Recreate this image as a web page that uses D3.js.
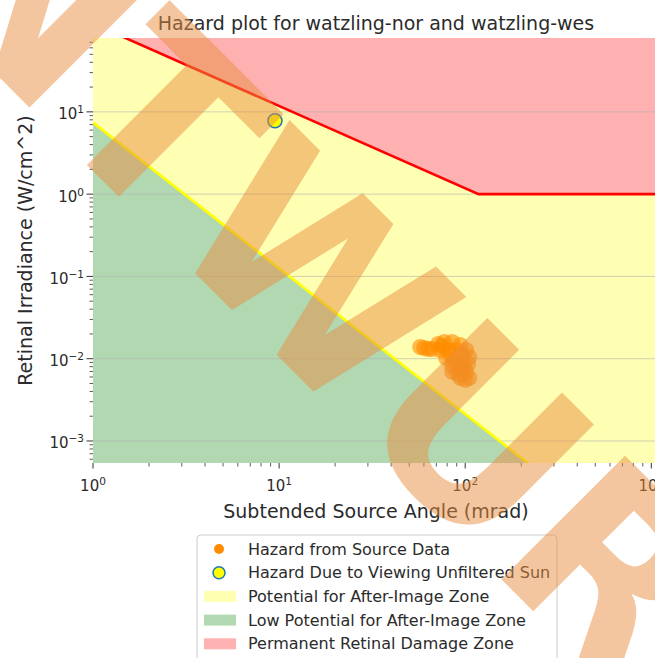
<!DOCTYPE html>
<html>
<head>
<meta charset="utf-8">
<script src="https://cdn.jsdelivr.net/npm/d3@7"></script>
<style>
  body { margin: 0; background: #fff; }
  svg { display: block; }
  text { font-family: "DejaVu Sans", sans-serif; fill: #2b2b2b; }
</style>
</head>
<body>
<svg id="chart" width="655" height="658"></svg>
<script>
// axis ranges and ticks
var xDomain = [1, 1100];
var yDomain = [5.4e-4, 79];
var xMajor = [1, 10, 100, 1000];
var yMajor = [1e-3, 1e-2, 1e-1, 1, 10];

// zone boundaries
var damageX = [1, 118, 1100];
var damageY = [118, 1, 1];
var afterX = [1, 240];
var afterY = [7.4, 4.5e-4];

// hazard points
var sunX = [9.5];
var sunY = [7.8];
var sourceX = [57.3, 60.2, 63.2, 66.5,
               71.6, 77.1, 85.1, 94.0, 101.2, 105.1,
               73.4, 81.1, 89.5, 96.4, 79.0, 87.3, 96.4, 103.8, 85.1,
               94.0, 101.2, 105.1, 94.0, 100.0, 91.7,
               83.0, 91.7, 85.1, 98.8, 75.2];
var sourceY = [0.01388, 0.01349, 0.01312, 0.01312,
               0.01510, 0.01595, 0.01595, 0.01466, 0.01276, 0.01049,
               0.01276, 0.01276, 0.01276, 0.01141, 0.01021, 0.00965, 0.00912, 0.00862, 0.00815,
               0.00729, 0.00690, 0.00583, 0.00583, 0.00551, 0.00652,
               0.01109, 0.00838, 0.00690, 0.00771, 0.01427];

var legendLabels = ["Hazard from Source Data", "Hazard Due to Viewing Unfiltered Sun",
  "Potential for After-Image Zone", "Low Potential for After-Image Zone", "Permanent Retinal Damage Zone"];

var svg = d3.select("#chart");
var pLeft = 93, pRight = 659, pTop = 38, pBottom = 463;

var x = d3.scaleLog().domain(xDomain).range([pLeft, pRight]);
var y = d3.scaleLog().domain(yDomain).range([pBottom, pTop]);

svg.append("defs").append("clipPath").attr("id", "plotclip")
  .append("rect").attr("x", pLeft).attr("y", pTop)
  .attr("width", pRight - pLeft).attr("height", pBottom - pTop);

var plot = svg.append("g").attr("clip-path", "url(#plotclip)");

// zones: yellow = 30% yellow, red = 30% red, green = 30% green (over white)
plot.append("rect")
  .attr("x", pLeft).attr("y", pTop)
  .attr("width", pRight - pLeft).attr("height", pBottom - pTop)
  .attr("fill", "rgb(255,255,179)");

var damage = damageX.map(function(d, i) { return [d, damageY[i]]; });
var after = afterX.map(function(d, i) { return [d, afterY[i]]; });

plot.append("path")
  .datum(damage)
  .attr("d", d3.area().x(function(d) { return x(d[0]); }).y0(0).y1(function(d) { return y(d[1]); }))
  .attr("fill", "rgb(255,176,176)");

plot.append("path")
  .datum(after)
  .attr("d", d3.area().x(function(d) { return x(d[0]); }).y0(pBottom + 50).y1(function(d) { return y(d[1]); }))
  .attr("fill", "rgb(178,216,178)");

// horizontal grid
plot.selectAll("line.grid")
  .data(yMajor)
  .enter().append("line")
  .attr("x1", pLeft).attr("x2", pRight)
  .attr("y1", function(d) { return y(d); }).attr("y2", function(d) { return y(d); })
  .attr("stroke", "#b0b0b0").attr("stroke-opacity", 0.6).attr("stroke-width", 1);

var line = d3.line().x(function(d) { return x(d[0]); }).y(function(d) { return y(d[1]); });

plot.append("path").datum(damage).attr("d", line)
  .attr("fill", "none").attr("stroke", "#ff0000").attr("stroke-width", 2.6);

plot.append("path").datum(after).attr("d", line)
  .attr("fill", "none").attr("stroke", "#ffff00").attr("stroke-width", 2.6);

// source data points
plot.selectAll("circle.src")
  .data(sourceX)
  .enter().append("circle")
  .attr("cx", function(d) { return x(d); })
  .attr("cy", function(d, i) { return y(sourceY[i]); })
  .attr("r", 8)
  .attr("fill", "#ff8c00").attr("fill-opacity", 0.6);

// sun
plot.selectAll("circle.sun")
  .data(sunX)
  .enter().append("circle")
  .attr("cx", function(d) { return x(d); })
  .attr("cy", function(d, i) { return y(sunY[i]); })
  .attr("r", 7)
  .attr("fill", "#ffff00").attr("stroke", "#1f77b4").attr("stroke-width", 1.5);

// ticks
function minors(domain) {
  var out = [];
  for (var e = -5; e <= 4; e++) {
    for (var m = 2; m <= 9; m++) {
      var v = m * Math.pow(10, e);
      if (v > domain[0] && v < domain[1]) out.push(v);
    }
  }
  return out;
}

var tickColor = "#333";
svg.selectAll("line.xmaj").data(xMajor).enter().append("line")
  .attr("x1", function(d) { return x(d); }).attr("x2", function(d) { return x(d); })
  .attr("y1", pBottom).attr("y2", pBottom + 5.5).attr("stroke", tickColor).attr("stroke-width", 1);
svg.selectAll("line.xmin").data(minors(xDomain)).enter().append("line")
  .attr("x1", function(d) { return x(d); }).attr("x2", function(d) { return x(d); })
  .attr("y1", pBottom).attr("y2", pBottom + 3.5).attr("stroke", tickColor).attr("stroke-width", 0.8);
svg.selectAll("line.ymaj").data(yMajor).enter().append("line")
  .attr("y1", function(d) { return y(d); }).attr("y2", function(d) { return y(d); })
  .attr("x1", pLeft - 6.5).attr("x2", pLeft).attr("stroke", tickColor).attr("stroke-width", 1);
svg.selectAll("line.ymin").data(minors(yDomain)).enter().append("line")
  .attr("y1", function(d) { return y(d); }).attr("y2", function(d) { return y(d); })
  .attr("x1", pLeft - 3.5).attr("x2", pLeft).attr("stroke", tickColor).attr("stroke-width", 0.8);

function expo(d) { return Math.round(Math.log10(d)).toString().replace("-", "\u2212"); }

function powLabel(sel) {
  sel.append("tspan").text("10");
  sel.append("tspan").attr("dy", -6).attr("font-size", 10.5).text(function(d) { return expo(d); });
}

svg.selectAll("text.xl").data(xMajor).enter().append("text")
  .attr("x", function(d) { return x(d); }).attr("y", 491)
  .attr("text-anchor", "middle").attr("font-size", 15)
  .call(powLabel);

svg.selectAll("text.yl").data(yMajor).enter().append("text")
  .attr("x", 84).attr("y", function(d) { return y(d) + 7.5; })
  .attr("text-anchor", "end").attr("font-size", 15)
  .call(powLabel);

// labels
svg.append("text").attr("x", (pLeft + pRight) / 2).attr("y", 518)
  .attr("text-anchor", "middle").attr("font-size", 19)
  .text("Subtended Source Angle (mrad)");

svg.append("text").attr("transform", "translate(32," + ((pTop + pBottom) / 2) + ") rotate(-90)")
  .attr("text-anchor", "middle").attr("font-size", 19)
  .text("Retinal Irradiance (W/cm^2)");

svg.append("text").attr("x", (pLeft + pRight) / 2).attr("y", 30)
  .attr("text-anchor", "middle").attr("font-size", 19)
  .text("Hazard plot for watzling-nor and watzling-wes");

// legend
var legend = svg.append("g").attr("transform", "translate(197,535)");
legend.append("rect").attr("width", 360).attr("height", 140).attr("rx", 4)
  .attr("fill", "#fff").attr("fill-opacity", 0.8).attr("stroke", "#ccc");

var rowY = function(i) { return 14 + i * 23.7; };
legend.selectAll("text").data(legendLabels).enter().append("text")
  .attr("x", 51).attr("y", function(d, i) { return rowY(i) + 5.5; })
  .attr("font-size", 16).text(function(d) { return d; });

legend.append("circle").attr("cx", 22).attr("cy", rowY(0)).attr("r", 5).attr("fill", "#ff8c00");
legend.append("circle").attr("cx", 22).attr("cy", rowY(1)).attr("r", 6)
  .attr("fill", "#ffff00").attr("stroke", "#1f77b4").attr("stroke-width", 1.5);
var patchColors = ["rgb(255,255,0)", "rgb(0,128,0)", "rgb(255,0,0)"];
legend.selectAll("rect.patch").data(patchColors).enter().append("rect")
  .attr("x", 7).attr("y", function(d, i) { return rowY(i + 2) - 5.5; })
  .attr("width", 32).attr("height", 11)
  .attr("fill", function(d) { return d; }).attr("fill-opacity", 0.3);

// watermark
svg.append("text")
  .attr("transform", "translate(-213,-135) rotate(45)")
  .attr("font-size", 240).attr("font-weight", "bold")
  .style("fill", "rgb(232,142,64)").style("fill-opacity", 0.5)
  .text("ENTWURF");
</script>
</body>
</html>
